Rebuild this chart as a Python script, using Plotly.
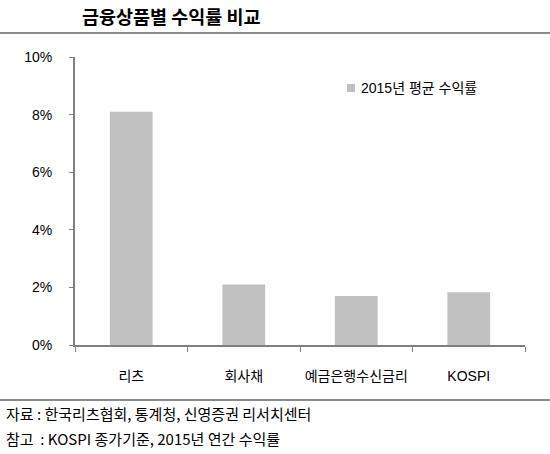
import plotly.graph_objects as go

categories = ["리츠", "회사채", "예금은행수신금리", "KOSPI"]
returns_2015 = [0.081, 0.021, 0.017, 0.0183]
series_name = "2015년 평균 수익률"
title_text = "금융상품별 수익률 비교"
source_text = "자료 : 한국리츠협회, 통계청, 신영증권 리서치센터"
note_text = "참고  : KOSPI 종가기준, 2015년 연간 수익률"

FONT = "Liberation Sans, Arial, Noto Sans CJK KR"
W, H = 550, 454
L, R, T, B = 75, 25, 57, 109
pw, ph = W - L - R, H - T - B

def px_x(x):
    return (x - L) / pw

def px_y(y):
    return (H - B - y) / ph

fig = go.Figure()
fig.add_trace(go.Bar(
    x=categories, y=returns_2015, name=series_name,
    marker=dict(color="#c0c0c0", line=dict(width=0)),
    width=0.38, showlegend=False,
))

fig.update_layout(
    width=W, height=H,
    margin=dict(l=L, r=R, t=T, b=B),
    paper_bgcolor="white", plot_bgcolor="white",
    font=dict(family=FONT, size=14, color="#000"),
    showlegend=False,
    xaxis=dict(
        type="category", range=[-0.5, 3.5],
        showline=True, linecolor="#808080", linewidth=2,
        ticks="outside", tickson="boundaries", ticklen=5, tickcolor="#808080", tickwidth=1,
        showgrid=False, tickfont=dict(size=14, color="#000"),
        ticklabelstandoff=17,
    ),
    yaxis=dict(
        range=[0, 0.10], dtick=0.02, tickformat=".0%",
        showline=True, linecolor="#808080", linewidth=2,
        ticks="outside", ticklen=4, tickcolor="#808080", tickwidth=1,
        showgrid=False, zeroline=False, tickfont=dict(size=14, color="#000"),
        ticklabelstandoff=14,
    ),
    shapes=[
        dict(type="line", xref="paper", yref="paper", x0=px_x(0), x1=px_x(W),
             y0=px_y(33), y1=px_y(33), line=dict(color="#8c8c8c", width=2)),
        dict(type="line", xref="paper", yref="paper", x0=px_x(0), x1=px_x(W),
             y0=px_y(400), y1=px_y(400), line=dict(color="#8c8c8c", width=2)),
        dict(type="rect", xref="paper", yref="paper", x0=px_x(347), x1=px_x(355),
             y0=px_y(92), y1=px_y(84), fillcolor="#c0c0c0", line=dict(width=0)),
    ],
    annotations=[
        dict(text=series_name, xref="paper", yref="paper",
             x=px_x(359), y=px_y(88), xanchor="left", yanchor="middle",
             showarrow=False, font=dict(size=14, color="#000")),
        dict(text="<b>" + title_text + "</b>", xref="paper", yref="paper",
             x=px_x(80), y=px_y(16), xanchor="left", yanchor="middle",
             showarrow=False, font=dict(size=18.5, color="#000", family="Noto Sans CJK KR")),
        dict(text=source_text, xref="paper", yref="paper",
             x=px_x(4), y=px_y(413), xanchor="left", yanchor="middle",
             showarrow=False, font=dict(size=15, color="#000", family="Noto Sans CJK KR")),
        dict(text=note_text, xref="paper", yref="paper",
             x=px_x(4), y=px_y(438), xanchor="left", yanchor="middle",
             showarrow=False, font=dict(size=15, color="#000", family="Noto Sans CJK KR")),
    ],
)

fig.write_html("out.html")
